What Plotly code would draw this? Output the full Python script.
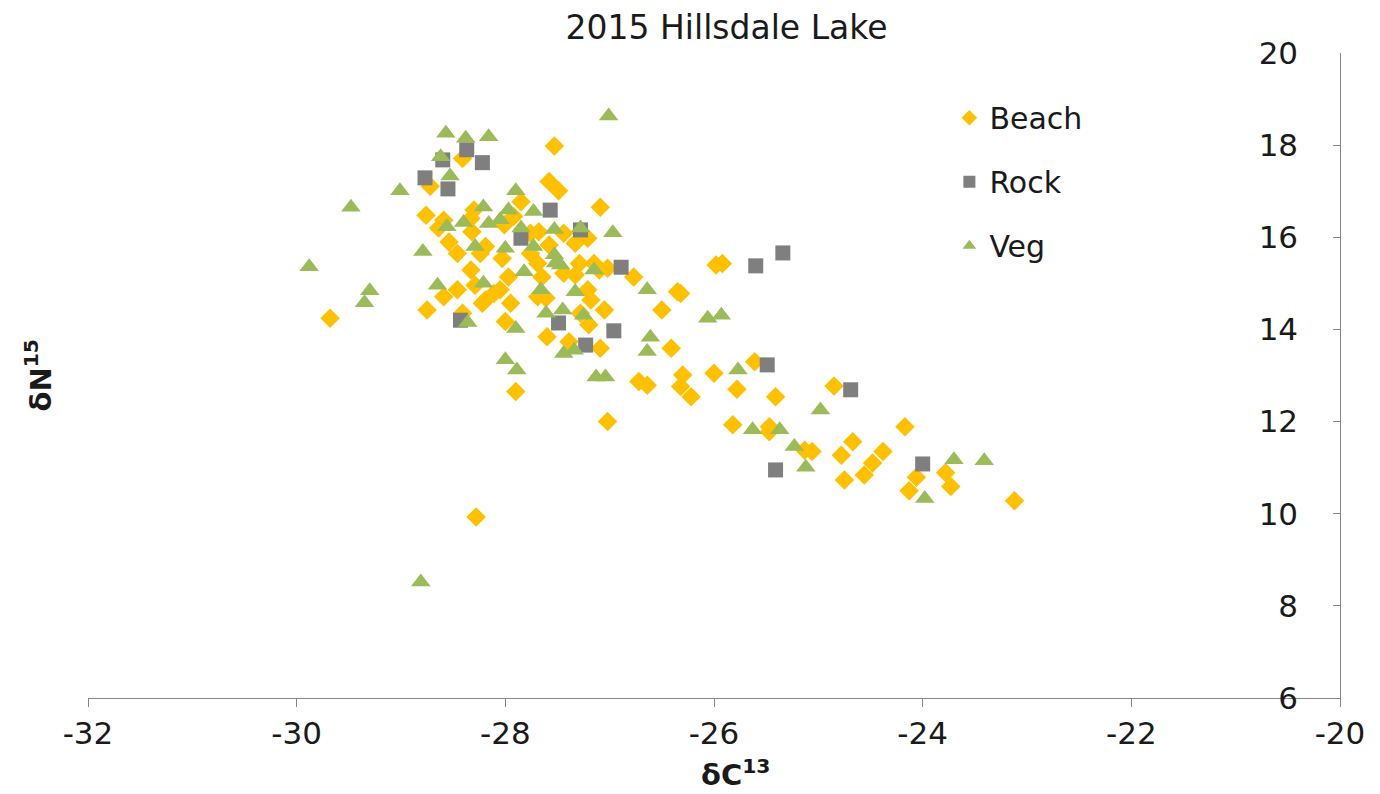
import plotly.graph_objects as go

# ---- data ----
beach_x = [-27.53, -28.41, -28.72, -28.76, -28.59, -28.64, -28.54, -28.46, -28.32, -28.19,
           -28.33, -28.30, -27.85, -27.58, -27.49, -27.09, -28.33, -28.01, -27.92, -27.76,
           -27.68, -27.44, -27.33, -27.21, -27.58, -28.24, -28.03, -27.76, -27.69, -27.29,
           -27.15, -27.97, -27.65, -27.44, -27.02, -26.77, -27.33, -27.10, -28.75, -28.59,
           -28.46, -28.29, -28.22, -28.11, -28.05, -27.95, -28.00, -27.69, -27.61, -27.60,
           -27.28, -27.21, -27.18, -27.20, -27.05, -27.09, -27.39, -27.90, -27.02, -26.72,
           -29.68, -28.19, -28.41, -25.92, -26.35, -26.50, -26.41, -26.64, -26.30, -26.32,
           -26.22, -26.00, -25.78, -25.61, -25.41, -24.85, -25.82, -25.47, -25.47, -25.06,
           -25.13, -24.78, -24.67, -24.38, -24.48, -24.56, -24.75, -24.17, -23.78, -24.06,
           -24.13, -23.73, -23.12, -28.28, -25.98, -26.32]
beach_y = [17.98, 17.71, 17.11, 16.48, 16.37, 16.20, 15.90, 15.65, 16.12, 15.80,
           15.29, 16.59, 16.77, 17.21, 17.01, 16.65, 16.41, 16.27, 16.45, 16.09,
           16.12, 16.09, 15.87, 15.98, 15.83, 15.65, 15.54, 15.65, 15.43, 15.43,
           15.43, 15.14, 15.14, 15.22, 15.33, 15.14, 15.18, 15.29, 14.42, 14.71,
           14.86, 14.96, 14.57, 14.78, 14.86, 14.57, 14.17, 14.71, 14.68, 13.84,
           14.35, 14.86, 14.64, 14.10, 14.42, 13.59, 13.73, 12.65, 12.00, 12.87,
           14.24, 14.64, 14.35, 15.43, 14.82, 14.42, 13.59, 12.79, 13.01, 12.76,
           12.54, 13.05, 12.70, 13.30, 12.54, 12.77, 11.93, 11.89, 11.78, 11.35,
           11.38, 11.27, 11.56, 11.35, 11.10, 10.84, 10.73, 11.89, 10.89, 10.79,
           10.50, 10.59, 10.28, 9.93, 15.40, 14.78]

rock_x = [-28.77, -28.55, -28.60, -28.37, -28.22, -27.57, -27.28, -27.85, -26.89, -25.60,
          -25.34, -28.43, -27.49, -27.23, -26.96, -25.49, -24.69, -25.41, -24.00]
rock_y = [17.29, 17.05, 17.68, 17.90, 17.62, 16.59, 16.16, 15.98, 15.35, 15.38,
          15.66, 14.20, 14.14, 13.66, 13.97, 13.23, 12.69, 10.95, 11.08]

veg_x = [-27.01, -28.57, -28.38, -28.16, -28.62, -28.53, -29.01, -29.48, -29.88, -28.79,
         -29.30, -29.35, -28.65, -28.21, -28.36, -27.90, -28.21, -27.97, -27.73, -28.40,
         -28.16, -28.05, -27.85, -27.53, -27.28, -26.97, -28.56, -28.29, -28.00, -27.73,
         -27.53, -27.82, -27.15, -27.52, -27.47, -27.66, -27.33, -27.90, -27.61, -27.45,
         -27.25, -27.44, -27.34, -28.00, -27.89, -27.13, -27.04, -26.64, -26.06, -25.93,
         -26.61, -26.64, -25.77, -24.98, -25.63, -25.37, -25.23, -25.12, -23.70, -23.41,
         -23.98, -28.81]
veg_y = [18.63, 18.26, 18.15, 18.18, 17.75, 17.33, 17.01, 16.65, 15.36, 15.69,
         14.84, 14.58, 14.96, 15.00, 14.15, 17.01, 16.66, 16.59, 16.56, 16.32,
         16.30, 16.38, 16.20, 16.17, 16.20, 16.10, 16.23, 15.80, 15.76, 15.80,
         15.62, 15.25, 15.29, 15.44, 15.40, 14.86, 14.82, 14.02, 14.35, 14.42,
         14.31, 13.48, 13.55, 13.34, 13.12, 12.97, 12.97, 14.86, 14.24, 14.31,
         13.83, 13.52, 13.12, 12.25, 11.82, 11.82, 11.46, 11.01, 11.17, 11.15,
         10.33, 8.52]

x_ticks = [-32, -30, -28, -26, -24, -22, -20]
y_ticks = [6, 8, 10, 12, 14, 16, 18, 20]

FONT = "DejaVu Sans"
AXIS_COLOR = "#868686"
TEXT_COLOR = "#1a1a1a"

fig = go.Figure()
fig.add_trace(go.Scatter(x=beach_x, y=beach_y, mode="markers", name="Beach",
                         legendgroup="b",
                         marker=dict(symbol="diamond", size=15, color="#FFC000",
                                     line=dict(width=0))))
fig.add_trace(go.Scatter(x=rock_x, y=rock_y, mode="markers", name="Rock",
                         legendgroup="r",
                         marker=dict(symbol="square", size=15, color="#7F7F7F",
                                     line=dict(width=0))))
fig.add_trace(go.Scatter(x=veg_x, y=veg_y, mode="markers", name="Veg",
                         legendgroup="v",
                         marker=dict(symbol="triangle-up", size=17, color="#9BBB59",
                                     line=dict(width=0))))

fig.update_layout(
    width=1380, height=794,
    margin=dict(l=88, r=40, t=53, b=96),
    paper_bgcolor="white", plot_bgcolor="white",
    font=dict(family=FONT, size=29, color=TEXT_COLOR),
    title=dict(text="2015 Hillsdale Lake", x=0.51, xref="paper", xanchor="center",
               y=1 - 27 / 794, yref="container", yanchor="middle",
               font=dict(family=FONT, size=33, color=TEXT_COLOR)),
    showlegend=True,
    legend=dict(x=0.688, y=0.94, xanchor="left", yanchor="top",
                bgcolor="rgba(0,0,0,0)", traceorder="grouped", tracegroupgap=22,
                font=dict(family=FONT, size=30, color=TEXT_COLOR),
                itemsizing="constant"),
    xaxis=dict(range=[-32, -20], tickvals=x_ticks, ticktext=[str(v) for v in x_ticks],
               showgrid=False, zeroline=False, showline=True, linecolor=AXIS_COLOR,
               linewidth=1.2, ticks="outside", ticklen=8, tickcolor=AXIS_COLOR,
               ticklabeloverflow="allow",
               tickfont=dict(family=FONT, size=31, color=TEXT_COLOR)),
    yaxis=dict(range=[6, 20], tickvals=y_ticks, ticktext=[str(v) for v in y_ticks],
               side="right", showgrid=False, zeroline=False, showline=True,
               linecolor=AXIS_COLOR, linewidth=1.2, ticks="inside", ticklen=7,
               tickcolor=AXIS_COLOR, ticklabelposition="inside",
               ticklabeloverflow="allow", ticklabelstandoff=38,
               tickfont=dict(family=FONT, size=31, color=TEXT_COLOR)),
    annotations=[
        dict(text="<b>δN<sup>15</sup></b>", xref="paper", yref="paper",
             x=(38 - 88) / 1252, y=0.5, xanchor="center", yanchor="middle",
             textangle=-90, showarrow=False,
             font=dict(family=FONT, size=29, color=TEXT_COLOR)),
        dict(text="<b>δC<sup>13</sup></b>", xref="paper", yref="paper",
             x=(736 - 88) / 1252, y=-(773 - 698) / 645, xanchor="center",
             yanchor="middle", showarrow=False,
             font=dict(family=FONT, size=29, color=TEXT_COLOR)),
    ],
)

fig.write_html("out.html", config={"displayModeBar": False},
               post_script="document.body.style.margin='0';document.body.style.padding='0';")
